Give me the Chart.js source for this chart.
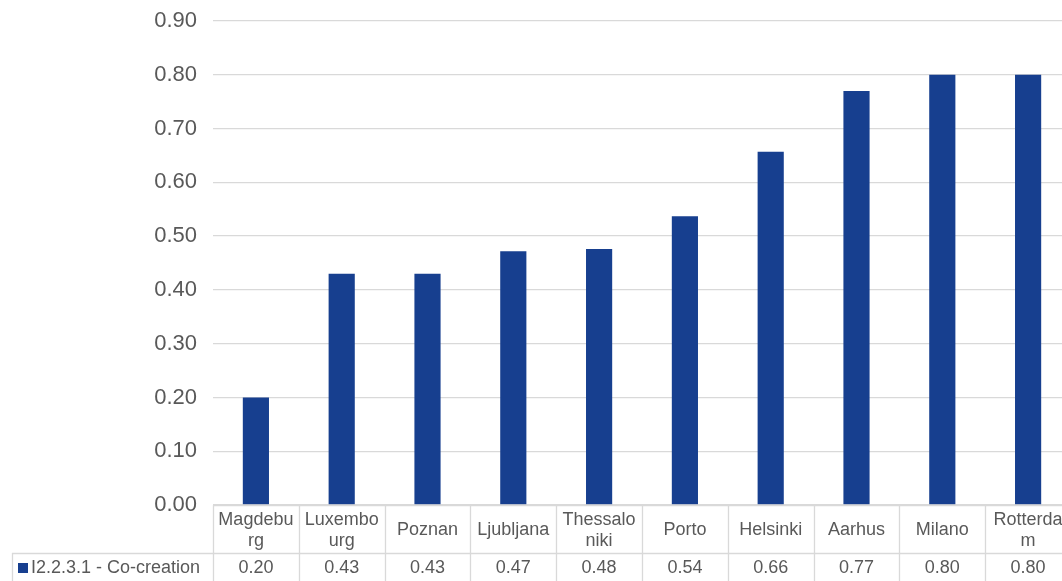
<!DOCTYPE html>
<html><head><meta charset="utf-8">
<script src="https://cdn.jsdelivr.net/npm/chart.js@4/dist/chart.umd.min.js"></script>
<style>html,body{margin:0;padding:0;overflow:hidden;background:#fff}#wrap{position:relative;width:1071px;height:581px}</style>
</head><body><div id="wrap"><canvas id="c" width="1071" height="581"></canvas></div>
<script>
const categories = ['Magdeburg','Luxembourg','Poznan','Ljubljana','Thessaloniki','Porto','Helsinki','Aarhus','Milano','Rotterdam'];
const categoryLabels = [['Magdebu','rg'],['Luxembo','urg'],['Poznan'],['Ljubljana'],['Thessalo','niki'],['Porto'],['Helsinki'],['Aarhus'],['Milano'],['Rotterda','m']];
const seriesName = 'I2.2.3.1 - Co-creation';
const values = [0.20,0.43,0.43,0.472,0.476,0.537,0.657,0.77,0.80,0.80];
const yMin = 0, yMax = 0.9, yStep = 0.1;

const TXT = '#595959', GRID = '#d9d9d9', BAR = '#173f8f';
const FONT = 'Liberation Sans, Arial, sans-serif';

const tablePlugin = {
  id: 'dataTable',
  afterDraw(chart) {
    const ctx = chart.ctx, x = chart.scales.x, area = chart.chartArea;
    const n = categories.length;
    const w = (area.right - area.left) / n;
    const top = area.bottom, mid = area.bottom + 48, bot = chart.height;
    ctx.save();
    ctx.strokeStyle = GRID; ctx.lineWidth = 1.3;
    ctx.beginPath();
    ctx.moveTo(area.left, top + 0.5); ctx.lineTo(chart.width, top + 0.5);
    ctx.moveTo(12, mid + 0.5); ctx.lineTo(chart.width, mid + 0.5);
    ctx.moveTo(12.5, mid); ctx.lineTo(12.5, bot);
    for (let i = 0; i <= n; i++) {
      const bx = Math.round(area.left + i * w) + 0.5;
      ctx.moveTo(bx, top); ctx.lineTo(bx, bot);
    }
    ctx.stroke();
    ctx.fillStyle = TXT;
    ctx.font = '18px ' + FONT;
    ctx.textAlign = 'center'; ctx.textBaseline = 'middle';
    for (let i = 0; i < n; i++) {
      const cx = x.getPixelForValue(i);
      const lines = categoryLabels[i];
      if (lines.length === 1) {
        ctx.fillText(lines[0], cx, top + 25);
      } else {
        ctx.fillText(lines[0], cx, top + 15);
        ctx.fillText(lines[1], cx, top + 36);
      }
      ctx.fillText(values[i].toFixed(2), cx, mid + 15);
    }
    ctx.fillStyle = BAR;
    ctx.fillRect(18, mid + 10, 10, 10);
    ctx.fillStyle = TXT;
    ctx.textAlign = 'left';
    ctx.fillText(seriesName, 31, mid + 15);
    ctx.restore();
  }
};

new Chart(document.getElementById('c'), {
  type: 'bar',
  data: {
    labels: categories,
    datasets: [{ label: seriesName, data: values, backgroundColor: BAR, borderWidth: 0,
      barPercentage: 0.305, categoryPercentage: 1 }]
  },
  options: {
    responsive: false, animation: false, devicePixelRatio: 1,
    layout: { padding: { top: 21, bottom: 76, left: 0, right: 0 } },
    plugins: { legend: { display: false }, tooltip: { enabled: false } },
    scales: {
      x: { display: false },
      y: {
        min: yMin, max: yMax,
        afterFit(s) { s.width = 213; s.paddingTop = 0; s.paddingBottom = 0; },
        ticks: { stepSize: yStep, color: TXT, padding: 16, font: { family: FONT, size: 22 },
          callback: v => Number(v).toFixed(2) },
        grid: { color: GRID, lineWidth: 1.3, drawTicks: false },
        border: { display: false }
      }
    }
  },
  plugins: [tablePlugin]
});
</script></body></html>
